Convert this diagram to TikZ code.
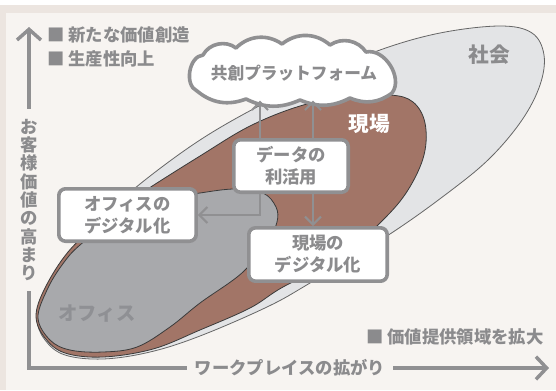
\documentclass[tikz,border=0pt]{standalone}
\usepackage{fontspec}
\setmainfont{Noto Sans CJK JP}
\usetikzlibrary{arrows.meta}
\definecolor{framec}{HTML}{ECE5E0}
\definecolor{panel}{HTML}{F7F4F1}
\definecolor{soc}{HTML}{E3E4E6}
\definecolor{brn}{HTML}{A27567}
\definecolor{ofc}{HTML}{A8A9AC}
\definecolor{txt}{HTML}{8B8B8D}
\definecolor{bord}{HTML}{909092}
\definecolor{ofclbl}{HTML}{8F9094}
\definecolor{outl}{HTML}{3A3A3A}
\begin{document}
\begin{tikzpicture}[x=0.75pt,y=-0.75pt,
  lbl/.style={font=\bfseries\fontsize{13pt}{16pt}\selectfont, text=txt},
  boxnode/.style={draw=bord, line width=2.7pt, fill=white, rounded corners=5pt, align=center,
    font=\bfseries\fontsize{13pt}{16.5pt}\selectfont, text=txt, inner sep=0pt},
  conn/.style={draw=bord, line width=1.5pt, -{Straight Barb[length=6pt,width=12pt]}},
  axis/.style={draw=bord, line width=2.6pt, line join=miter},
  region/.style={line width=0.6pt, draw=outl},
  cloudline/.style={draw=bord, line width=2.7pt, fill=white, line join=round}
]
\useasboundingbox (0,0) rectangle (556,390);
\fill[white] (0,0) rectangle (556,390);
\fill[framec] (0,5) rectangle (556,390);
\fill[panel] (6,13) rectangle (556,390);

% society
\path[region, fill=soc, draw=black!60] plot[smooth cycle, tension=0.6] coordinates {
 (37,318) (46,288) (70,252) (105,215) (145,180) (200,140) (257,107) (320,76) (380,50) (440,33)
 (500,26) (532,33) (544,55) (540,85) (522,120) (490,158) (449,192) (390,234) (310,283)
 (267,307) (200,336) (150,352) (103,359) (65,355) (45,340)};
% genba
\path[region, fill=brn] plot[smooth cycle, tension=0.6] coordinates {
 (36,316) (45,288) (68,252) (100,222) (140,194) (200,156) (250,126) (300,106) (345,97) (390,95)
 (413,102) (425,123) (424,155) (408,190) (383,220) (340,258) (283,287) (250,308) (200,330)
 (153,349) (103,357) (65,353) (45,338)};
% office
\path[region, fill=ofc] plot[smooth cycle, tension=0.6] coordinates {
 (38,318) (47,290) (62,265) (80,245) (120,215) (160,200) (200,193) (235,189) (263,193)
 (276,207) (277,222) (268,240) (243,272) (200,303) (170,327) (137,347) (103,352) (70,350) (50,340)};

% labels
\node[font=\bfseries\fontsize{15.5pt}{16pt}\selectfont, text=txt] (soclbl) at (489,55) {社会};
\node[font=\bfseries\fontsize{15.5pt}{16pt}\selectfont, text=white] (gblbl) at (369,124) {現場};
\node[font=\bfseries\fontsize{14.5pt}{16pt}\selectfont, text=ofclbl] (oflbl) at (97,314) {オフィス};

\node[lbl, anchor=west, inner sep=0pt] (lg1) at (47,35) {■ 新たな価値創造};
\node[lbl, anchor=west, inner sep=0pt] (lg2) at (47,59) {■ 生産性向上};
\node[lbl, anchor=west, inner sep=0pt] (lg3) at (366,337) {■ 価値提供領域を拡大};

% boxes
\node[boxnode, minimum width=103pt, minimum height=39.3pt] (ofd) at (127.5,215) {オフィスの\\デジタル化};
\node[boxnode, minimum width=85.8pt, minimum height=39.3pt] (data) at (291,166) {データの\\利活用};
\node[boxnode, minimum width=103.8pt, minimum height=40pt] (genba) at (318,254.5) {現場の\\デジタル化};

% cloud outline
\coordinate (c1) at (197,91);
\coordinate (c2) at (203,55);
\coordinate (c3) at (236,48);
\coordinate (c4) at (282,44);
\coordinate (c5) at (330,45);
\coordinate (c6) at (366,52);
\coordinate (c7) at (392,93);
\coordinate (c8) at (350,98);
\coordinate (c9) at (300,100);
\coordinate (c10) at (246,99);
\path[cloudline] (c1) to[bend left=75] (c2) to[bend left=50] (c3) to[bend left=40] (c4)
  to[bend left=40] (c5) to[bend left=45] (c6) to[bend left=70] (c7) to[bend left=30] (c8)
  to[bend left=25] (c9) to[bend left=25] (c10) to[bend left=30] (c1) -- cycle;
\node[font=\bfseries\fontsize{12.5pt}{14pt}\selectfont, text=txt, minimum width=150pt, minimum height=41pt, inner sep=0pt]
  (cloud) at (294,73) {共創プラットフォーム};

% connectors
\coordinate (dL) at ([xshift=-23.25pt]data.north);
\coordinate (dR) at ([xshift=16.5pt]data.north);
\coordinate (dLb) at ([xshift=-23.25pt]data.south);
\coordinate (dRb) at ([xshift=16.5pt]data.south);
\draw[conn] (dL) -- (dL |- cloud.south);
\draw[conn] (dR) -- (dR |- cloud.south);
\draw[conn] (dRb) -- (dRb |- genba.north);
\draw[conn] (dLb) |- (ofd.east);

% axes
\node[font=\bfseries\fontsize{13pt}{13.7pt}\selectfont, text=txt, align=center, inner xsep=0pt, inner ysep=7.5pt] (vt) at (29,200)
 {お\\客\\様\\価\\値\\の\\高\\ま\\り};
\node[lbl, inner xsep=6pt, inner ysep=0pt] (ht) at (290,368) {ワークプレイスの拡がり};
\coordinate (vtop) at (29,27);
\coordinate (hend) at (549,368);
\draw[axis, -{Straight Barb[length=8pt,width=18pt]}] (vt.north) -- (vtop);
\draw[axis] (vt.south) |- (ht.west);
\draw[axis, -{Straight Barb[length=8pt,width=17pt]}] (ht.east) -- (hend);
\end{tikzpicture}
\end{document}
